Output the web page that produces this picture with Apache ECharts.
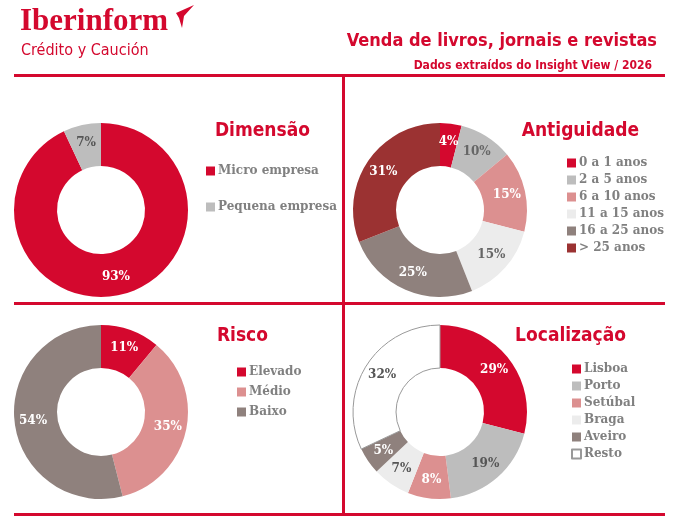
<!DOCTYPE html>
<html><head><meta charset="utf-8">
<script src="https://cdn.jsdelivr.net/npm/echarts@6/dist/echarts.min.js"></script>
<style>html,body{margin:0;background:#fff}#c{width:678px;height:532px}</style>
</head><body><div id="c"></div>
<script>
const RED = "#d4082e";
const dimNames = ["Micro empresa", "Pequena empresa"];
const dimValues = [93, 7];
const dimColors = [RED, "#bdbdbd"];
const antNames = ["0 a 1 anos", "2 a 5 anos", "6 a 10 anos", "11 a 15 anos", "16 a 25 anos", "> 25 anos"];
const antValues = [4, 10, 15, 15, 25, 31];
const antColors = [RED, "#bdbdbd", "#dc9090", "#ececec", "#8f817d", "#9b3232"];
const antLabelColors = ["#fff", "#666", "#fff", "#666", "#fff", "#fff"];
const riscoNames = ["Elevado", "Médio", "Baixo"];
const riscoValues = [11, 35, 54];
const riscoColors = [RED, "#dc9090", "#8f817d"];
const locNames = ["Lisboa", "Porto", "Setúbal", "Braga", "Aveiro", "Resto"];
const locValues = [29, 19, 8, 7, 5, 32];
const locColors = [RED, "#bdbdbd", "#dc9090", "#ececec", "#8f817d", "#ffffff"];
const locLabelColors = ["#fff", "#555", "#fff", "#555", "#fff", "#555"];

const LF = "DejaVu Serif";
function pie(names, values, colors, labelColors, center, border) {
  return {
    type: "pie", radius: [44, 87], center: center, startAngle: 90, clockwise: true,
    animation: false, silent: true,
    label: { position: "inside", formatter: "{c}%", fontFamily: LF, fontWeight: "bold", fontSize: 12 },
    labelLine: { show: false },
    data: names.map((n, i) => ({
      name: n, value: values[i],
      itemStyle: { color: colors[i], borderColor: border && colors[i] === "#ffffff" ? "#999" : colors[i], borderWidth: border && colors[i] === "#ffffff" ? 1 : 0 },
      label: { color: labelColors ? labelColors[i] : "#fff" }
    }))
  };
}
function legend(names, left, top, gap) {
  return {
    data: names, left: left, top: top, orient: "vertical", icon: "rect",
    itemWidth: 9, itemHeight: 9, itemGap: gap, selectedMode: false,
    textStyle: { fontFamily: LF, fontWeight: "bold", fontSize: 12, color: "#808080", padding: [0, 0, 0, -2] }
  };
}
const TF = "DejaVu Sans Condensed";
function ttl(text, right, top) {
  return { text: text, right: right, top: top, textStyle: { fontFamily: TF, fontSize: 19, fontWeight: "bold", color: RED } };
}
const chart = echarts.init(document.getElementById("c"));
chart.setOption({
  animation: false,
  title: [
    ttl("Dimensão", 363, 117), ttl("Antiguidade", 34, 117),
    ttl("Risco", 405, 322), ttl("Localização", 47, 322),
    { text: "Venda de livros, jornais e revistas", right: 16, top: 27, textStyle: { fontFamily: TF, fontSize: 18, fontWeight: "bold", color: RED } },
    { text: "Dados extraídos do Insight View / 2026", right: 21, top: 55, textStyle: { fontFamily: TF, fontSize: 12, fontWeight: "bold", color: RED } }
  ],
  legend: [
    legend(dimNames, 201, 160, 24),
    legend(antNames, 562, 152, 5),
    legend(riscoNames, 232, 361, 8),
    legend(locNames, 566, 358, 5)
  ],
  graphic: [
    { type: "text", left: 20, top: 6, style: { text: "Iberinform", font: "bold 31px 'Liberation Serif'", fill: RED } },
    { type: "text", left: 21, top: 43, style: { text: "Crédito y Caución", font: "16px 'DejaVu Sans Condensed'", fill: RED } },
    { type: "polygon", shape: { points: [[176, 13], [194, 5], [184, 16], [182, 28], [179, 18]] }, style: { fill: RED } },
    { type: "rect", shape: { x: 14, y: 74, width: 651, height: 3 }, style: { fill: RED } },
    { type: "rect", shape: { x: 14, y: 302, width: 651, height: 3 }, style: { fill: RED } },
    { type: "rect", shape: { x: 14, y: 513, width: 651, height: 3 }, style: { fill: RED } },
    { type: "rect", shape: { x: 342, y: 76, width: 3, height: 438 }, style: { fill: RED } }
  ],
  series: [
    pie(dimNames, dimValues, dimColors, ["#fff", "#555"], [101, 210]),
    pie(antNames, antValues, antColors, antLabelColors, [440, 210]),
    pie(riscoNames, riscoValues, riscoColors, null, [101, 412]),
    pie(locNames, locValues, locColors, locLabelColors, [440, 412], true)
  ]
});
</script></body></html>
